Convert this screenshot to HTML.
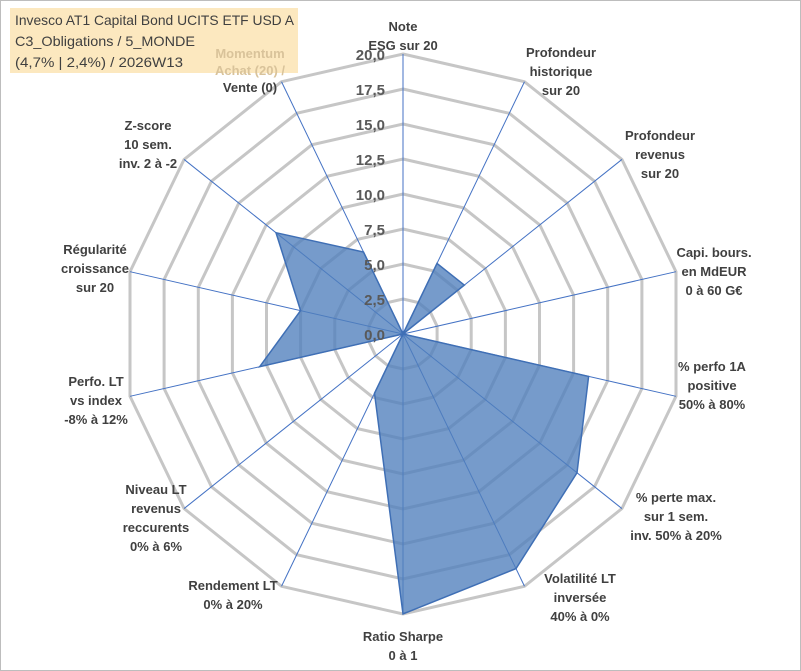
<!DOCTYPE html>
<html><head><meta charset="utf-8"><style>
html,body{margin:0;padding:0;background:#fff;}
#wrap{position:relative;width:801px;height:671px;overflow:hidden;font-family:"Liberation Sans",sans-serif;}
svg text{font-family:"Liberation Sans",sans-serif;font-weight:bold;}
</style></head><body>
<div id="wrap">
<svg id="chart" width="801" height="671">
<rect x="0.5" y="0.5" width="800" height="670" fill="#fff" stroke="#bdbdbd"/>
<rect x="10" y="8" width="288" height="65" fill="#fce8bf"/>
<text x="15" y="25" font-size="14" fill="#404040" textLength="279" lengthAdjust="spacingAndGlyphs" style="font-weight:normal">Invesco AT1 Capital Bond UCITS ETF USD A</text>
<text x="15" y="46" font-size="14" fill="#404040" textLength="180" lengthAdjust="spacingAndGlyphs" style="font-weight:normal">C3_Obligations / 5_MONDE</text>
<text x="15" y="67" font-size="14" fill="#404040" textLength="168" lengthAdjust="spacingAndGlyphs" style="font-weight:normal">(4,7% | 2,4%) / 2026W13</text>
<g id="grid"></g><g id="series"></g><g id="labels"></g>
</svg>
</div>
<script>
const categories=["Note|ESG sur 20","Profondeur|historique|sur 20","Profondeur|revenus|sur 20","Capi. bours.|en MdEUR|0 à 60 G€","% perfo 1A|positive|50% à 80%","% perte max.|sur 1 sem.|inv. 50% à 20%","Volatilité LT|inversée|40% à 0%","Ratio Sharpe|0 à 1","Rendement LT|0% à 20%","Niveau LT|revenus|reccurents|0% à 6%","Perfo. LT|vs index|-8% à 12%","Régularité|croissance|sur 20","Z-score|10 sem.|inv. 2 à -2","Momentum|Achat (20) /|Vente (0)"];
const values=[0,5.6,5.6,0,13.6,15.9,18.6,20,4.7,0,10.5,7.5,11.6,6.5];
const tickLabels=["0,0","2,5","5,0","7,5","10,0","12,5","15,0","17,5","20,0"];
const tickValues=[0,2.5,5,7.5,10,12.5,15,17.5,20];
const labelPos=[[403,31],[561,57],[660,140],[714,257],[712,371],[676,502],[580,583],[403,641],[233,590],[156,494],[96,386],[95,254],[148,130],[250,58]];
const cx=403,cy=334,R=280,maxV=20,N=categories.length;
const ns="http://www.w3.org/2000/svg";
function ang(i){return 2*Math.PI*i/N;}
function px(i,v){return cx+Math.sin(ang(i))*v/maxV*R;}
function py(i,v){return cy-Math.cos(ang(i))*v/maxV*R;}
function mk(t,a){const e=document.createElementNS(ns,t);for(const k in a)e.setAttribute(k,a[k]);return e;}
const grid=document.getElementById('grid'),ser=document.getElementById('series'),lab=document.getElementById('labels');
tickValues.forEach((tv,k)=>{if(tv===0)return;
 const pts=categories.map((c,i)=>px(i,tv).toFixed(1)+","+py(i,tv).toFixed(1)).join(" ");
 const p=mk('polygon',{points:pts,fill:'none',stroke:'#c6c6c6','stroke-width':3});
 
 
 grid.appendChild(p);});
categories.forEach((c,i)=>{
 const l=mk('line',{x1:cx,y1:cy,x2:px(i,maxV),y2:py(i,maxV),stroke:'#4472c4','stroke-width':1});
 
 
 grid.appendChild(l);});
const poly=mk('polygon',{points:values.map((v,i)=>px(i,v).toFixed(1)+","+py(i,v).toFixed(1)).join(" "),fill:'#4f7fbd','fill-opacity':0.78,stroke:'#3f6fb5','stroke-width':1.5});


ser.appendChild(poly);
tickValues.forEach((tv,k)=>{
 const t=mk('text',{x:385,y:py(0,tv)+6,'font-size':15,fill:'#595959','text-anchor':'end'});
 t.textContent=tickLabels[k];
 
 
 lab.appendChild(t);});
categories.forEach((c,i)=>{
 const lines=c.split("|");const [x,y]=labelPos[i];
 const gap=(i===13)?17:19;
 lines.forEach((s,j)=>{
  const col=(i===13&&j<2)?'#d9c39a':'#404040';
  const t=mk('text',{x:x,y:y+j*gap,'font-size':13,fill:col,'text-anchor':'middle'});
  t.textContent=s;
  
  
  lab.appendChild(t);});
});
</script>
</body></html>
